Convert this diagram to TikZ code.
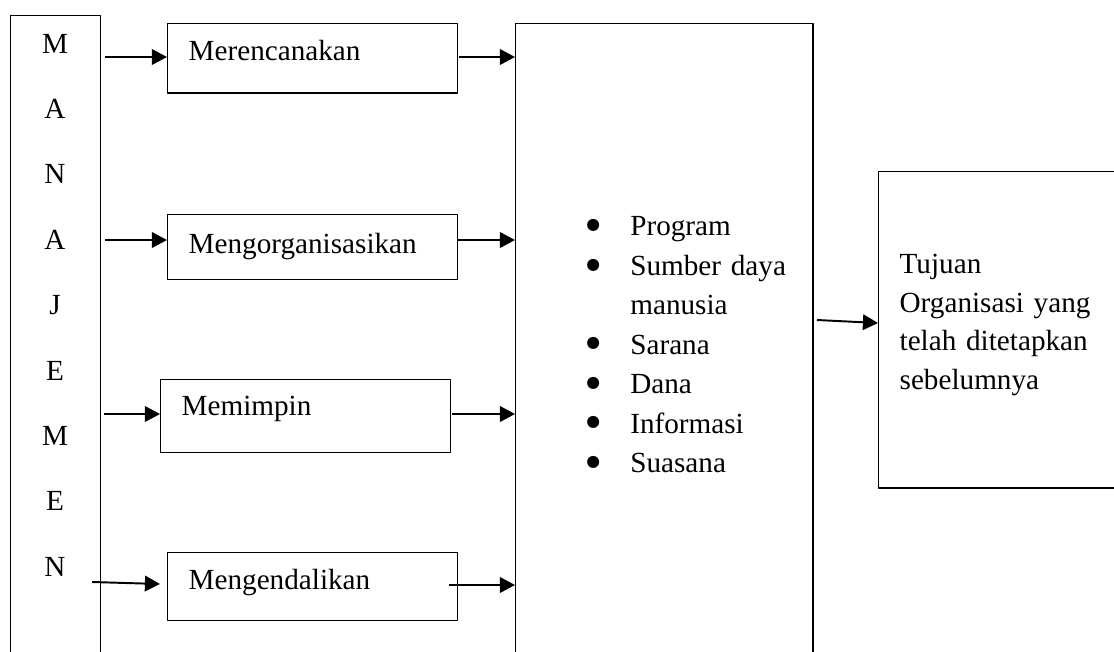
\documentclass[tikz,border=0pt]{standalone}
\usepackage{fontspec}
\setmainfont{Liberation Serif}
\newfontfamily\simbol{DejaVu Sans}
\usetikzlibrary{arrows.meta}
\newcommand{\butir}{\makebox[18.1pt][l]{\raisebox{2.6pt}{\simbol\fontsize{6.5}{8}\selectfont ●}}}
\begin{document}
\begin{tikzpicture}[x=0.411pt, y=-0.411pt, line join=round, >={Triangle[length=6.2pt,width=6.4pt]},
	font=\fontsize{12}{15.8}\selectfont,
	kotak/.style={draw, line width=0.6pt, anchor=north west, inner xsep=8.6pt, inner ysep=0pt, text width=102pt, align=left},
	panah/.style={->, line width=0.8pt}]
	\useasboundingbox (0,0) rectangle (1114,651);
	\clip (0,0) rectangle (1114,651);
	% kolom manajemen
	\node[draw, line width=0.6pt, anchor=north west, minimum width=37pt, minimum height=288pt] (mj) at (10,15) {};
	\foreach \h [count=\i from 0] in {M,A,N,A,J,E,M,E,N}
	\node[anchor=base] (h\i) at (55,{53+65.4*\i}) {\h};
	% fungsi manajemen
	\node[kotak, text height=15.2pt, text depth=13.2pt] (b1) at (167,23) {Merencanakan};
	\node[kotak, text height=16pt, text depth=10.7pt] (b2) at (167,214) {Mengorganisasikan};
	\node[kotak, text height=14.8pt, text depth=15.2pt] (b3) at (160,379) {Memimpin};
	\node[kotak, text height=15.2pt, text depth=12.7pt] (b4) at (167,552) {Mengendalikan};
	% sumber daya
	\node[draw, line width=0.6pt, anchor=north west, minimum width=122.1pt, minimum height=263.9pt, inner xsep=29pt, text width=64.1pt, align=left, font=\fontsize{12}{16.2}\selectfont] (sd) at (515,23) {%
		\butir Program\\
		\butir\mbox{Sumber daya}\\
		\hspace*{18.1pt}manusia\\
		\butir Sarana\\
		\butir Dana\\
		\butir Informasi\\
		\butir Suasana};
	% tujuan
	\node[draw, line width=0.6pt, anchor=north west, minimum width=98.6pt, minimum height=129.9pt, inner xsep=8.6pt, text width=81.4pt, align=left] (tj) at (878,171) {Tujuan\\Organisasi yang\\\makebox[81pt][s]{telah ditetapkan}\\sebelumnya\rule[-6.6pt]{0pt}{0pt}};
	% panah
	\coordinate (m1) at (105,57);
	\coordinate (m2) at (105,240);
	\coordinate (m3) at (104,414);
	\coordinate (m4) at (92,582);
	\coordinate (e4) at (160,584);
	\draw[panah] (m1) -- (m1 -| b1.west);
	\draw[panah] (m2) -- (m2 -| b2.west);
	\draw[panah] (m3) -- (m3 -| b3.west);
	\draw[panah] (m4) -- (e4);
	\coordinate (s1) at (459,57);
	\coordinate (s2) at (457,240);
	\coordinate (s3) at (452,414);
	\coordinate (s4) at (449,585);
	\draw[panah] (s1) -- (s1 -| sd.west);
	\draw[panah] (s2) -- (s2 -| sd.west);
	\draw[panah] (s3) -- (s3 -| sd.west);
	\draw[panah] (s4) -- (s4 -| sd.west);
	\coordinate (s5) at (817,320);
	\coordinate (e5) at (878,323);
	\draw[panah] (s5) -- (e5);
\end{tikzpicture}
\end{document}
